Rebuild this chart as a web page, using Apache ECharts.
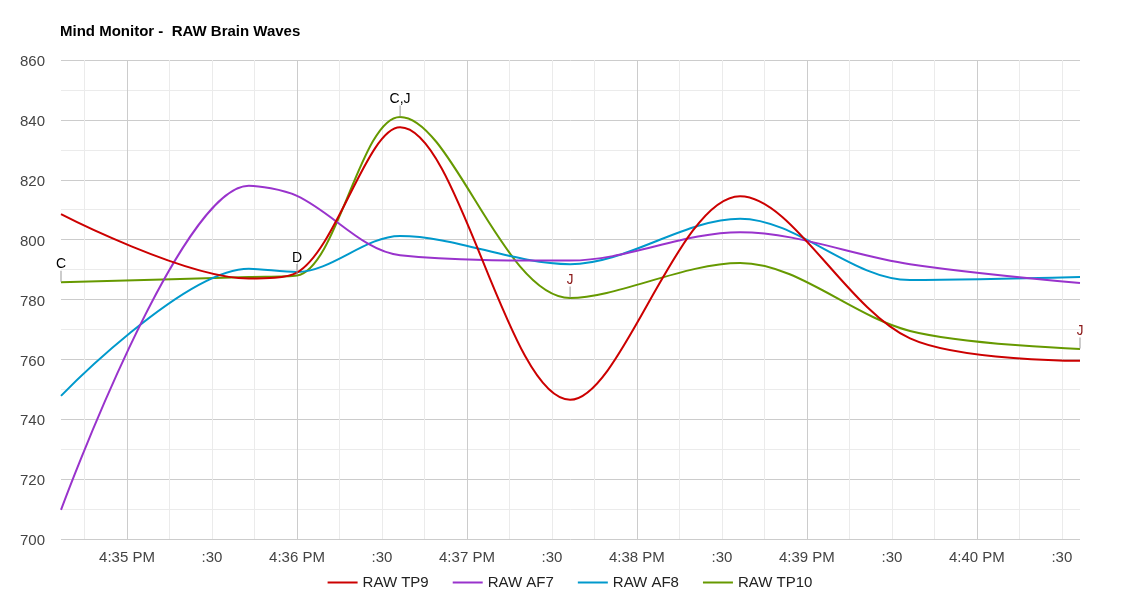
<!DOCTYPE html>
<html>
<head>
<meta charset="utf-8">
<script src="https://cdn.jsdelivr.net/npm/echarts@6/dist/echarts.min.js"></script>
<style>html,body{margin:0;padding:0;background:#fff}#c{width:1140px;height:600px}</style>
</head>
<body>
<div id="c"></div>
<script>
// Time in seconds relative to 4:35:00 PM
const times = [-23.3, 43, 60, 96.4, 156.4, 216.4, 276.4, 336.4];
const tp9  = [808.5, 787.0, 789.0, 837.5, 746.5, 814.5, 767.0, 759.5];
const af7  = [709.7, 818.0, 814.6, 794.8, 793.0, 802.5, 791.8, 785.5];
const af8  = [747.8, 790.3, 789.2, 801.2, 791.8, 807.0, 786.5, 787.5];
const tp10 = [785.8, 787.5, 788.0, 841.0, 780.5, 792.2, 769.5, 763.5];
const seriesNames = ['RAW TP9', 'RAW AF7', 'RAW AF8', 'RAW TP10'];
const annIndex = [0, 2, 3, 4, 7];
const annTexts = ['C', 'D', 'C,J', 'J', 'J'];
const yTicks = [700, 720, 740, 760, 780, 800, 820, 840, 860];
const xLabelValues = [0, 30, 60, 90, 120, 150, 180, 210, 240, 270, 300, 330];
const xGridValues = [-15, 0, 15, 30, 45, 60, 75, 90, 105, 120, 135, 150, 165, 180, 195, 210, 225, 240, 255, 270, 285, 300, 315, 330];

const colors = ['#cc0000', '#9933cc', '#0099cc', '#669900'];
const font = 'Arial, "Liberation Sans", sans-serif';

function pair(vals) { return times.map((t, i) => [t, vals[i]]); }

function fmtX(v) {
  const r = Math.round(v);
  if (Math.abs(v - r) > 1e-6) return '';
  if (((r % 60) + 60) % 60 === 0) {
    const minute = 35 + r / 60;
    return '4:' + String(minute).padStart(2, '0') + ' PM';
  }
  if (((r % 30) + 30) % 30 === 0) return ':30';
  return '';
}

const marks = annIndex.map((idx, k) => {
  const isJ = annTexts[k] === 'J';
  return {
    name: annTexts[k],
    coord: [times[idx], tp10[idx]],
    symbol: 'rect',
    symbolSize: [1, 11],
    symbolOffset: [0, -6],
    itemStyle: { color: '#999999' },
    label: {
      show: true,
      position: 'top',
      distance: -1,
      formatter: annTexts[k],
      color: isJ ? '#8b1a1a' : '#000000',
      fontSize: 14,
      fontFamily: isJ ? '"Liberation Mono", monospace' : font
    }
  };
});

const dataSets = [tp9, af7, af8, tp10];
const series = dataSets.map((d, i) => ({
  name: seriesNames[i],
  type: 'line',
  data: pair(d),
  smooth: 0.33,
  showSymbol: false,
  symbol: 'none',
  lineStyle: { width: 2, color: colors[i] },
  itemStyle: { color: colors[i] },
  z: 10 - i,
  markPoint: i === 3 ? { silent: true, animation: false, z: 12, data: marks } : undefined
}));

// vertical grid lines drawn through the x scale
series.push({
  name: 'grid',
  type: 'line',
  data: [],
  z: 1,
  silent: true,
  markLine: {
    silent: true,
    animation: false,
    z: 1,
    symbol: ['none', 'none'],
    label: { show: false },
    data: xGridValues.map(v => ({
      xAxis: v,
      lineStyle: { color: (v % 60 === 0) ? '#cccccc' : '#ebebeb', type: 'solid', width: 1 }
    }))
  }
});

const chart = echarts.init(document.getElementById('c'), null, { renderer: 'canvas' });
chart.setOption({
  animation: false,
  backgroundColor: '#ffffff',
  textStyle: { fontFamily: font },
  title: {
    text: 'Mind Monitor -  RAW Brain Waves',
    left: 60, top: 24,
    padding: 0,
    textStyle: { fontSize: 15, fontWeight: 'bold', color: '#000', fontFamily: font }
  },
  legend: {
    bottom: 5,
    left: 'center',
    icon: 'rect',
    itemWidth: 30,
    itemHeight: 2,
    itemGap: 24,
    textStyle: { fontSize: 15, color: '#222', fontFamily: font },
    data: seriesNames
  },
  grid: { left: 61, right: 60, top: 60, bottom: 61, containLabel: false },
  xAxis: {
    type: 'value',
    min: times[0],
    max: times[times.length - 1],
    axisLine: { show: false },
    axisTick: { show: false },
    axisLabel: {
      customValues: xLabelValues,
      formatter: fmtX,
      fontSize: 15,
      color: '#444',
      margin: 11,
      fontFamily: font
    },
    splitLine: { show: false }
  },
  yAxis: {
    type: 'value',
    min: yTicks[0],
    max: yTicks[yTicks.length - 1],
    interval: 20,
    axisLine: { show: false },
    axisTick: { show: false },
    axisLabel: {
      margin: 16,
      formatter: v => '{v|' + v + '}',
      rich: { v: { fontSize: 15, color: '#444', padding: [4, 0, 0, 0], fontFamily: font } }
    },
    splitLine: { show: true, lineStyle: { color: '#cccccc', width: 1 } },
    minorTick: { show: false, splitNumber: 2 },
    minorSplitLine: { show: true, lineStyle: { color: '#ebebeb', width: 1 } }
  },
  series: series
});
</script>
</body>
</html>
